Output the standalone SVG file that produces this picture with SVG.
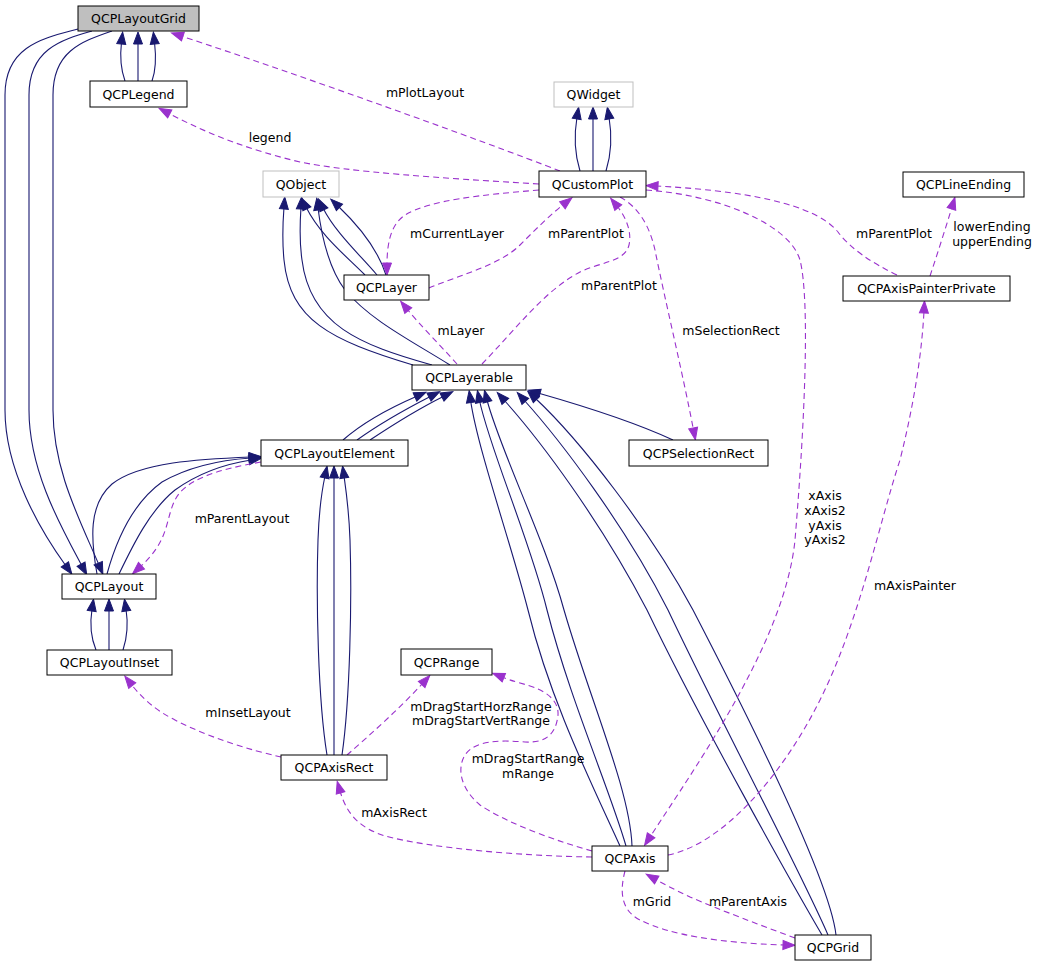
<svg xmlns="http://www.w3.org/2000/svg" width="1040" height="967" viewBox="0 0 1040 967">
<style>
.n rect{fill:#fff;stroke:#000;stroke-width:1}
.n.g rect{stroke:#bfbfbf}
.n.h rect{fill:#bfbfbf}
text{font-family:"DejaVu Sans","Liberation Sans",sans-serif;font-size:12.5px;fill:#000;text-anchor:middle}
.e{fill:none;stroke:#191970;stroke-width:1.1;marker-end:url(#ab)}
.d{fill:none;stroke:#9a32cd;stroke-width:1.1;stroke-dasharray:6,4;marker-end:url(#ap)}
</style>
<defs>
<marker id="ab" markerUnits="userSpaceOnUse" markerWidth="14" markerHeight="12" refX="2" refY="5" orient="auto" overflow="visible"><path d="M0,0.5 L12,5 L0,9.5 z" fill="#191970" stroke="#191970" stroke-width="1"/></marker>
<marker id="ap" markerUnits="userSpaceOnUse" markerWidth="14" markerHeight="12" refX="2" refY="5" orient="auto" overflow="visible"><path d="M0,0.5 L12,5 L0,9.5 z" fill="#9a32cd" stroke="#9a32cd" stroke-width="1"/></marker>
</defs>
<rect width="1040" height="967" fill="#fff"/>
<g id="edges">
<!-- QCPLegend -> QCPLayoutGrid -->
<path class="e" d="M125,81 C121,70 120,55 121.5,42"/>
<path class="e" d="M138,81 L138,42"/>
<path class="e" d="M152,81 C156,70 156,55 154.5,42"/>
<!-- QCPLayoutGrid -> QCPLayout -->
<path class="e" d="M78,29 C45,38 5,45 5,95 L5,410 C5,470 40,530 66,566"/>
<path class="e" d="M92,31 C60,40 29,50 29,95 L29,410 C29,470 60,525 82,566"/>
<path class="e" d="M112,31 C80,42 53,52 53,95 L53,410 C53,470 80,520 99,565"/>
<!-- QCPLayout -> QCPLayoutElement -->
<path class="e" d="M97,574 C91,540 88,505 112,484 C140,462 200,459 251,457"/>
<path class="e" d="M107,574 C115,545 130,505 162,482 C190,466 220,460 251,458"/>
<path class="e" d="M119,574 C133,545 150,510 175,490 C200,472 225,464 251,460"/>
<!-- QCPLayoutInset -> QCPLayout -->
<path class="e" d="M96,650 C91,638 90,622 92,609"/>
<path class="e" d="M109,650 L109,609"/>
<path class="e" d="M123,650 C127,638 128,622 126,609"/>
<!-- QCPLayoutElement -> QCPLayerable -->
<path class="e" d="M343,440 C360,425 385,410 416.8,396.2"/>
<path class="e" d="M357,440 C375,427 400,412 430.8,396.2"/>
<path class="e" d="M370,440 C388,428 412,412 443.8,396.2"/>
<!-- QCPAxisRect -> QCPLayoutElement -->
<path class="e" d="M327,755 C318,700 316,600 318,540 C319,510 322,490 325,476"/>
<path class="e" d="M334,755 L334,476"/>
<path class="e" d="M342,755 C350,700 352,600 350,540 C349,510 346,490 344,476"/>
<!-- QCPLayerable -> QObject -->
<path class="e" d="M413,365 C330,340 290,320 284,260 C282,240 283,220 284,207"/>
<path class="e" d="M432,365 C360,345 310,325 302,260 C299,240 300,222 301,207"/>
<path class="e" d="M450,365 C410,340 370,320 345,290 C330,270 322,240 318,208"/>
<!-- QCPLayer -> QObject -->
<path class="e" d="M365,275 C345,255 320,235 306,207"/>
<path class="e" d="M377,275 C360,255 335,232 323,208"/>
<path class="e" d="M386,275 C378,250 358,225 338,206"/>
<!-- QCustomPlot -> QWidget -->
<path class="e" d="M580,171 C575,155 574,135 577,117"/>
<path class="e" d="M593,171 L593,117"/>
<path class="e" d="M606,171 C611,155 612,135 609,117"/>
<!-- QCPAxis -> QCPLayerable -->
<path class="e" d="M620,846 C590,780 550,700 528,610 C510,540 478,450 470.6,400.6"/>
<path class="e" d="M626,846 C610,790 570,700 547,610 C530,540 490,450 479.5,400.5"/>
<path class="e" d="M632,846 C630,790 590,700 564,610 C545,540 500,450 487,400"/>
<!-- QCPGrid -> QCPLayerable -->
<path class="e" d="M822,935 C790,880 700,720 647,610 C600,520 540,440 504,400"/>
<path class="e" d="M828,935 C800,870 720,720 668,610 C625,525 560,440 524,400"/>
<path class="e" d="M836,935 C830,880 750,720 693,610 C650,530 580,440 535,398"/>
<!-- QCPSelectionRect -> QCPLayerable -->
<path class="e" d="M673,440 C630,420 580,405 538,393"/>

<!-- dashed -->
<path class="d" d="M560,171 C480,140 300,75 181,36"/>
<path class="d" d="M539,184 C440,178 350,172 300,162 C250,150 210,135 168,113"/>
<path class="d" d="M539,190 C480,195 430,200 405,215 C390,225 387,245 387,265"/>
<path class="d" d="M429,288 C460,275 500,265 520,245 C535,230 550,215 564,204"/>
<path class="d" d="M482,364 C515,330 545,290 580,272 C600,262 625,262 629,245 C632,232 626,217 617,206"/>
<path class="d" d="M620,197 C640,208 650,228 655,250 C665,300 682,370 693.5,430"/>
<path class="d" d="M897,275 C870,262 850,248 838,232 C820,210 770,192 656,186"/>
<path class="d" d="M646,190 C720,195 790,225 800,260 C810,300 805,420 795,540 C785,640 700,760 650,837"/>
<path class="d" d="M668,855 C720,845 780,780 820,700 C860,620 880,520 900,460 C915,400 922,350 924,311"/>
<path class="d" d="M930,276 C937,255 945,230 952,207"/>
<path class="d" d="M457,364 C440,345 420,325 407,309"/>
<path class="d" d="M261,462 C215,470 185,480 175,500 C165,520 170,540 140,567"/>
<path class="d" d="M281,757 C250,750 210,738 175,720 C155,710 142,698 131,684"/>
<path class="d" d="M347,755 C370,735 400,708 423,683"/>
<path class="d" d="M592,851 C560,842 510,825 480,805 C462,790 456,770 465,755 C475,740 500,740 525,742 C545,743 556,735 558,715 C559,700 545,690 527,685 C520,683 512,681 502,677"/>
<path class="d" d="M592,857 C520,856 430,848 385,836 C360,828 347,815 340,791"/>
<path class="d" d="M625,871 C620,890 620,910 640,920 C670,935 720,943 785,945"/>
<path class="d" d="M795,938 C760,925 720,910 690,897 C675,890 664,884 655,879"/>

<!-- labels -->
<text x="425" y="97">mPlotLayout</text>
<text x="270" y="142">legend</text>
<text x="457" y="238">mCurrentLayer</text>
<text x="586" y="238">mParentPlot</text>
<text x="619" y="290">mParentPlot</text>
<text x="461" y="335">mLayer</text>
<text x="731" y="335">mSelectionRect</text>
<text x="894" y="238">mParentPlot</text>
<text x="992" y="231">lowerEnding</text>
<text x="992" y="246">upperEnding</text>
<text x="825" y="500">xAxis</text>
<text x="825" y="515">xAxis2</text>
<text x="825" y="530">yAxis</text>
<text x="825" y="544">yAxis2</text>
<text x="915" y="590">mAxisPainter</text>
<text x="242" y="523">mParentLayout</text>
<text x="248" y="717">mInsetLayout</text>
<text x="481" y="711">mDragStartHorzRange</text>
<text x="481" y="725">mDragStartVertRange</text>
<text x="528" y="763">mDragStartRange</text>
<text x="528" y="778">mRange</text>
<text x="394" y="817">mAxisRect</text>
<text x="652" y="906">mGrid</text>
<text x="748" y="906">mParentAxis</text>
</g>
<g id="node-QCPLayoutGrid" class="n h"><rect x="78" y="6" width="121" height="25"/><text x="138.5" y="23">QCPLayoutGrid</text></g>
<g id="node-QCPLegend" class="n"><rect x="90" y="81" width="97" height="26"/><text x="138.5" y="98.5">QCPLegend</text></g>
<g id="node-QWidget" class="n g"><rect x="554" y="82" width="79" height="25"/><text x="593.5" y="99">QWidget</text></g>
<g id="node-QCustomPlot" class="n"><rect x="539" y="171" width="107" height="26"/><text x="592.5" y="188.5">QCustomPlot</text></g>
<g id="node-QObject" class="n g"><rect x="263" y="171" width="76" height="26"/><text x="301" y="188.5">QObject</text></g>
<g id="node-QCPLineEnding" class="n"><rect x="903" y="172" width="121" height="25"/><text x="963.5" y="189">QCPLineEnding</text></g>
<g id="node-QCPLayer" class="n"><rect x="344" y="275" width="85" height="25"/><text x="386.5" y="292">QCPLayer</text></g>
<g id="node-QCPAxisPainterPrivate" class="n"><rect x="843" y="276" width="167" height="25"/><text x="926.5" y="293">QCPAxisPainterPrivate</text></g>
<g id="node-QCPLayerable" class="n"><rect x="412" y="365" width="114" height="25"/><text x="469" y="382">QCPLayerable</text></g>
<g id="node-QCPLayoutElement" class="n"><rect x="261" y="440" width="147" height="26"/><text x="334.5" y="457.5">QCPLayoutElement</text></g>
<g id="node-QCPSelectionRect" class="n"><rect x="629" y="440" width="139" height="26"/><text x="698.5" y="457.5">QCPSelectionRect</text></g>
<g id="node-QCPLayout" class="n"><rect x="62" y="574" width="94" height="25"/><text x="109" y="591">QCPLayout</text></g>
<g id="node-QCPLayoutInset" class="n"><rect x="47" y="650" width="125" height="25"/><text x="109.5" y="667">QCPLayoutInset</text></g>
<g id="node-QCPRange" class="n"><rect x="401" y="649" width="91" height="26"/><text x="446.5" y="666.5">QCPRange</text></g>
<g id="node-QCPAxisRect" class="n"><rect x="281" y="755" width="106" height="25"/><text x="334" y="772">QCPAxisRect</text></g>
<g id="node-QCPAxis" class="n"><rect x="592" y="846" width="76" height="25"/><text x="630" y="863">QCPAxis</text></g>
<g id="node-QCPGrid" class="n"><rect x="795" y="935" width="76" height="25"/><text x="833" y="952">QCPGrid</text></g>
</svg>
